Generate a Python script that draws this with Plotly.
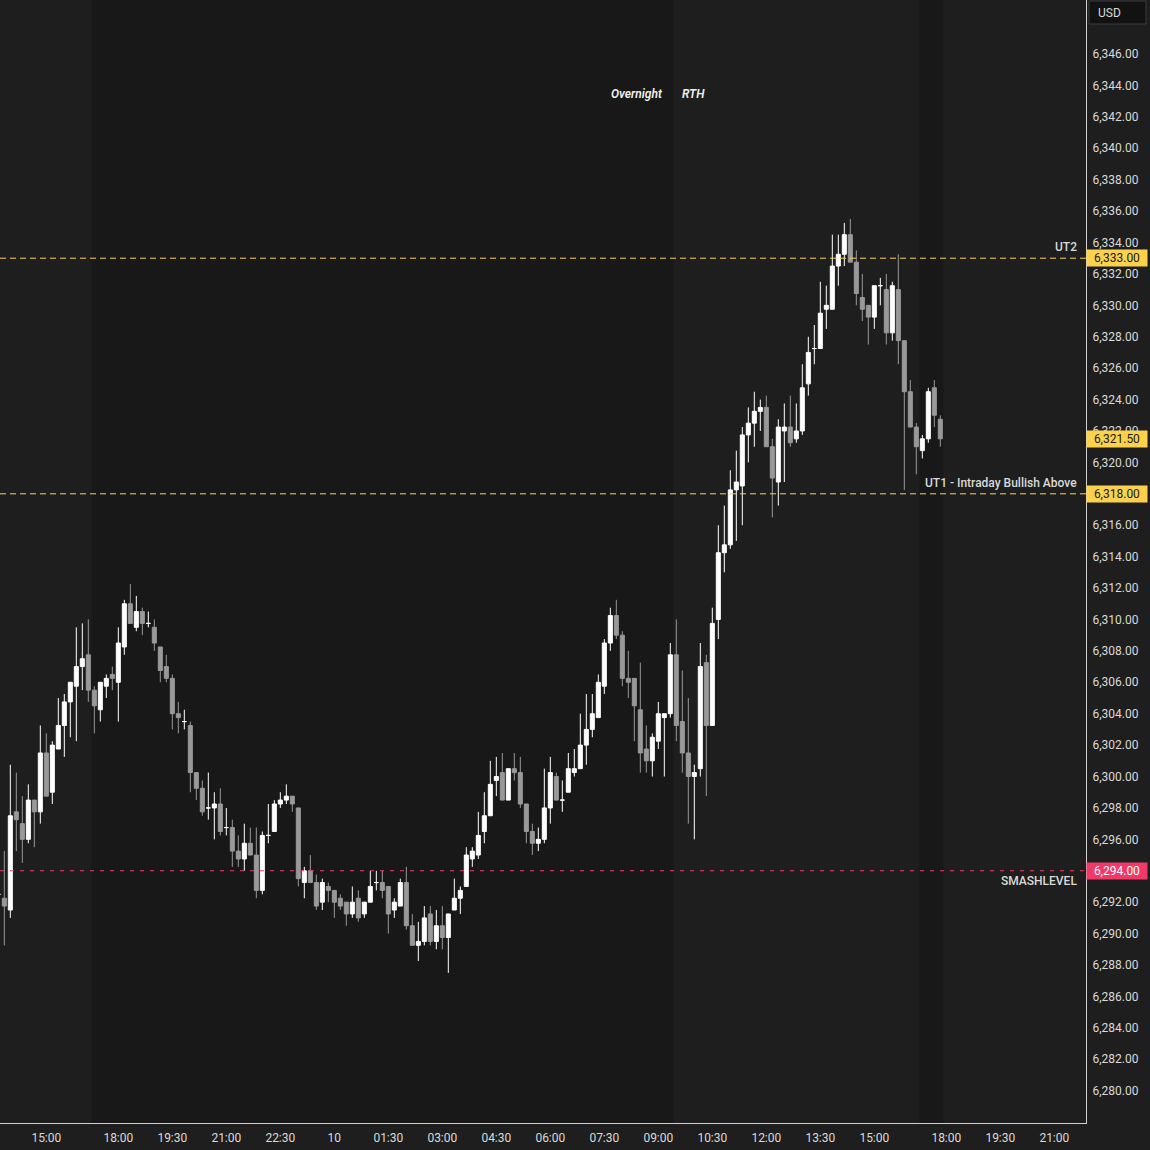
import plotly.graph_objects as go
import pandas as pd

# ---------------- data (10-minute bars, ES futures) ----------------
opens = [
    6292.5, 6292.25, 6291.5, 6297.75, 6297.0, 6296.0, 6298.5, 6297.75, 6301.5, 6299.0,
    6301.75, 6303.25, 6304.75, 6305.75, 6307.0, 6307.75, 6305.5, 6304.25, 6305.75, 6306.5,
    6306.0, 6308.25, 6311.0, 6309.5, 6310.5, 6309.75, 6309.5, 6308.25, 6307.0, 6306.25,
    6304.0, 6303.5, 6303.25, 6300.25, 6299.25, 6298.0, 6298.0, 6298.25, 6296.75, 6296.75,
    6295.25, 6294.75, 6295.75, 6295.0, 6292.75, 6296.25, 6296.5, 6298.25, 6298.5, 6298.75,
    6298.0, 6293.25, 6294.0, 6293.25, 6292.0, 6293.0, 6292.75, 6292.25, 6292.0, 6291.25,
    6292.25, 6291.25, 6292.0, 6293.25, 6293.25, 6293.0, 6291.5, 6291.75, 6293.25, 6290.5,
    6289.25, 6289.5, 6291.25, 6289.5, 6290.5, 6289.75, 6291.5, 6292.25, 6293.0, 6294.75,
    6295.0, 6296.5, 6297.5, 6299.75, 6300.25, 6298.5, 6300.5, 6300.25, 6298.25, 6296.5,
    6295.75, 6296.0, 6298.0, 6300.0, 6298.5, 6299.0, 6300.25, 6300.5, 6302.0, 6303.0,
    6303.75, 6305.75, 6308.5, 6310.25, 6309.0, 6306.25, 6306.25, 6304.25, 6301.75, 6301.0,
    6302.25, 6303.75, 6304.0, 6307.75, 6303.5, 6301.5, 6300.0, 6300.5, 6307.25, 6303.25,
    6310.0, 6314.25, 6314.75, 6318.25, 6318.5, 6321.75, 6322.5, 6323.25, 6323.5, 6321.0,
    6318.75, 6322.0, 6322.25, 6321.5, 6322.0, 6325.0, 6327.25, 6327.25, 6329.75, 6329.75,
    6332.5, 6333.25, 6334.5, 6332.75, 6330.5, 6330.0, 6329.25, 6331.25, 6331.0, 6328.25,
    6331.0, 6327.75, 6324.5, 6322.25, 6320.75, 6321.5, 6324.75, 6322.75,
]
highs = [
    6293.0, 6295.25, 6300.75, 6300.25, 6298.75, 6299.5, 6298.5, 6303.25, 6302.75, 6302.25,
    6305.0, 6305.25, 6306.0, 6309.5, 6309.75, 6310.0, 6305.75, 6306.0, 6306.5, 6307.0,
    6309.5, 6311.25, 6312.25, 6311.5, 6310.75, 6310.5, 6310.0, 6308.25, 6307.75, 6306.5,
    6304.75, 6304.25, 6303.5, 6300.25, 6299.75, 6300.25, 6299.0, 6299.25, 6298.0, 6297.25,
    6296.25, 6297.0, 6296.75, 6296.75, 6296.5, 6298.25, 6298.5, 6299.0, 6299.5, 6298.75,
    6298.0, 6294.25, 6295.0, 6293.75, 6293.5, 6293.25, 6292.75, 6292.5, 6292.0, 6293.0,
    6292.75, 6292.0, 6294.0, 6294.0, 6294.0, 6293.0, 6292.25, 6293.5, 6294.25, 6291.25,
    6290.75, 6291.75, 6291.75, 6291.5, 6291.75, 6291.25, 6293.5, 6293.0, 6295.5, 6295.5,
    6297.75, 6299.0, 6301.0, 6301.25, 6301.5, 6300.5, 6301.5, 6301.25, 6298.25, 6297.0,
    6296.75, 6300.5, 6301.25, 6300.25, 6299.75, 6301.5, 6301.75, 6304.0, 6305.25, 6305.25,
    6306.5, 6308.75, 6310.75, 6311.25, 6309.25, 6308.0, 6306.25, 6307.25, 6303.25, 6302.75,
    6304.75, 6304.0, 6308.5, 6310.0, 6306.75, 6305.0, 6300.75, 6308.5, 6307.75, 6310.75,
    6316.0, 6317.25, 6319.5, 6320.75, 6322.25, 6323.5, 6324.5, 6324.0, 6324.25, 6321.5,
    6322.75, 6323.75, 6324.25, 6323.75, 6326.25, 6328.0, 6328.75, 6331.5, 6331.25, 6334.5,
    6334.5, 6335.25, 6335.5, 6333.5, 6332.0, 6330.0, 6331.25, 6331.75, 6332.0, 6331.5,
    6333.25, 6327.75, 6325.25, 6322.5, 6321.75, 6324.75, 6325.25, 6323.0,
]
lows = [
    6292.0, 6289.25, 6291.0, 6295.25, 6294.5, 6295.75, 6295.5, 6297.0, 6298.75, 6298.25,
    6301.75, 6301.25, 6302.5, 6302.25, 6305.5, 6304.75, 6302.75, 6303.5, 6305.0, 6305.5,
    6303.5, 6307.75, 6309.75, 6309.25, 6309.0, 6309.5, 6308.0, 6306.0, 6306.0, 6303.0,
    6302.75, 6303.0, 6299.0, 6298.5, 6297.5, 6297.25, 6296.0, 6296.25, 6296.25, 6294.25,
    6294.25, 6294.0, 6295.0, 6292.25, 6292.5, 6295.75, 6296.5, 6298.0, 6298.25, 6297.75,
    6293.0, 6292.25, 6293.25, 6291.5, 6291.5, 6292.0, 6291.0, 6291.5, 6290.5, 6291.0,
    6290.75, 6291.0, 6292.0, 6292.75, 6292.25, 6290.0, 6291.0, 6291.75, 6290.25, 6289.25,
    6288.25, 6289.25, 6289.25, 6289.0, 6289.0, 6287.5, 6291.5, 6291.25, 6293.0, 6294.25,
    6294.75, 6295.75, 6297.5, 6298.75, 6298.5, 6298.5, 6299.75, 6298.0, 6295.75, 6295.0,
    6295.25, 6295.75, 6297.0, 6298.5, 6297.75, 6299.0, 6300.0, 6300.5, 6300.75, 6302.5,
    6303.75, 6305.25, 6308.0, 6308.75, 6305.75, 6305.0, 6302.25, 6300.25, 6300.25, 6300.0,
    6301.75, 6300.0, 6303.75, 6302.25, 6300.25, 6297.0, 6296.0, 6300.0, 6298.75, 6303.25,
    6308.75, 6313.0, 6314.5, 6315.0, 6316.0, 6320.0, 6321.0, 6322.0, 6321.0, 6316.5,
    6317.25, 6318.75, 6321.0, 6321.25, 6321.75, 6324.25, 6326.25, 6327.25, 6328.5, 6329.75,
    6331.25, 6332.5, 6332.75, 6330.0, 6329.0, 6327.5, 6328.5, 6330.0, 6327.5, 6327.75,
    6326.25, 6318.25, 6322.25, 6319.25, 6320.25, 6321.25, 6322.25, 6321.0,
]
closes = [
    6292.5, 6291.75, 6297.5, 6297.25, 6296.0, 6298.5, 6297.75, 6301.5, 6298.75, 6302.0,
    6303.25, 6304.75, 6306.0, 6307.0, 6307.5, 6305.5, 6304.5, 6306.0, 6306.25, 6306.25,
    6308.5, 6311.0, 6309.75, 6310.5, 6309.75, 6309.75, 6308.5, 6306.75, 6306.25, 6304.0,
    6303.75, 6303.5, 6300.25, 6299.25, 6297.75, 6298.0, 6298.25, 6296.5, 6296.75, 6295.25,
    6294.75, 6295.75, 6295.0, 6292.75, 6296.25, 6296.25, 6298.25, 6298.5, 6298.75, 6298.25,
    6293.5, 6294.0, 6293.25, 6291.75, 6293.25, 6292.75, 6292.0, 6291.75, 6291.25, 6292.0,
    6291.0, 6292.0, 6293.0, 6293.25, 6292.75, 6291.25, 6292.0, 6293.25, 6290.5, 6289.25,
    6289.5, 6291.0, 6289.5, 6290.5, 6289.75, 6291.25, 6292.25, 6292.75, 6295.0, 6295.25,
    6296.25, 6297.5, 6299.5, 6300.0, 6298.5, 6300.5, 6300.25, 6298.25, 6296.5, 6295.75,
    6296.0, 6298.0, 6300.25, 6298.5, 6298.5, 6300.5, 6300.5, 6302.0, 6303.0, 6304.0,
    6306.0, 6308.5, 6310.25, 6309.0, 6306.25, 6306.0, 6304.5, 6301.5, 6301.0, 6302.5,
    6304.0, 6304.0, 6307.75, 6303.25, 6301.5, 6300.0, 6300.25, 6307.0, 6303.25, 6309.75,
    6314.25, 6314.75, 6318.25, 6318.75, 6321.75, 6322.5, 6323.25, 6323.5, 6321.0, 6319.0,
    6322.25, 6322.25, 6321.25, 6322.0, 6324.75, 6327.0, 6327.25, 6329.5, 6330.0, 6332.5,
    6333.25, 6334.5, 6332.75, 6330.75, 6329.75, 6329.25, 6331.25, 6331.25, 6328.25, 6331.25,
    6327.75, 6324.5, 6322.25, 6321.0, 6321.5, 6324.5, 6323.0, 6321.5,
]

# bar times: 9 Jul 13:40 -> 16:50, then 18:00 -> 10 Jul 16:50 (17:00-18:00 maintenance break)
times = (list(pd.date_range("2025-07-09 13:40", "2025-07-09 16:50", freq="10min")) +
         list(pd.date_range("2025-07-09 18:00", "2025-07-10 16:50", freq="10min")))

tick_times = ["2025-07-09 15:00", "2025-07-09 18:00", "2025-07-09 19:30", "2025-07-09 21:00",
              "2025-07-09 22:30", "2025-07-10 00:00", "2025-07-10 01:30", "2025-07-10 03:00",
              "2025-07-10 04:30", "2025-07-10 06:00", "2025-07-10 07:30", "2025-07-10 09:00",
              "2025-07-10 10:30", "2025-07-10 12:00", "2025-07-10 13:30", "2025-07-10 15:00",
              "2025-07-10 18:00", "2025-07-10 19:30", "2025-07-10 21:00"]
tick_labels = ["15:00", "18:00", "19:30", "21:00", "22:30", "10", "01:30", "03:00", "04:30",
               "06:00", "07:30", "09:00", "10:30", "12:00", "13:30", "15:00", "18:00", "19:30", "21:00"]

price_ticks = list(range(6280, 6348, 2))

level_values = [6333.0, 6318.0, 6294.0]
level_names = ["UT2", "UT1 - Intraday Bullish Above", "SMASHLEVEL"]
level_label_side = ["above", "above", "below"]

# overnight session shading (start, end)
overnight_sessions = [("2025-07-09 16:15", "2025-07-10 09:25"),
                      ("2025-07-10 16:15", "2025-07-10 16:55")]

# ---------------- styling ----------------
BG = "#1e1e1e"
BG_ON = "#181818"
UP = "#ffffff"
DOWN = "#999999"
YELLOW = "#fcd24c"
PINK = "#f23867"
TXT = "#dadada"
FONT = "Roboto"
level_colors = [YELLOW, YELLOW, PINK]
level_dash = ["6px,4px", "6px,4px", "4px,6px"]
box_text_colors = ["#1a1a1a", "#1a1a1a", "#ffffff"]

# split dojis so they are always drawn white
idx_main = [i for i in range(len(opens)) if opens[i] != closes[i]]
idx_doji = [i for i in range(len(opens)) if opens[i] == closes[i]]


def pick(arr, idx):
    return [arr[i] for i in idx]


fig = go.Figure()
fig.add_trace(go.Candlestick(
    x=pick(times, idx_main), open=pick(opens, idx_main), high=pick(highs, idx_main),
    low=pick(lows, idx_main), close=pick(closes, idx_main),
    increasing=dict(line=dict(color=UP, width=1), fillcolor=UP),
    decreasing=dict(line=dict(color=DOWN, width=1), fillcolor=DOWN),
    whiskerwidth=0, showlegend=False, hoverinfo="skip"))
fig.add_trace(go.Candlestick(
    x=pick(times, idx_doji), open=pick(opens, idx_doji), high=pick(highs, idx_doji),
    low=pick(lows, idx_doji), close=pick(closes, idx_doji),
    increasing=dict(line=dict(color=UP, width=1), fillcolor=UP),
    decreasing=dict(line=dict(color=UP, width=1), fillcolor=UP),
    whiskerwidth=0, showlegend=False, hoverinfo="skip"))

shapes = []
for s, e in overnight_sessions:
    shapes.append(dict(type="rect", xref="x", yref="paper", x0=s, x1=e, y0=0, y1=1,
                       fillcolor=BG_ON, line=dict(width=0), layer="below"))
for v, c, d in zip(level_values, level_colors, level_dash):
    shapes.append(dict(type="line", xref="paper", yref="y", x0=0, x1=1, y0=v, y1=v,
                       line=dict(color=c, width=1, dash=d), layer="above"))
# USD box (top right, over the price scale)
shapes.append(dict(type="rect", xref="paper", yref="paper",
                   x0=1 + 3 / 1086, x1=1 + 60 / 1086, y0=1 - 24 / 1123, y1=1 - 1 / 1123,
                   fillcolor="#121212", line=dict(color="#3a3a3a", width=1), layer="above"))

annotations = []
for v, name, side in zip(level_values, level_names, level_label_side):
    annotations.append(dict(xref="paper", yref="y", x=1, y=v, xanchor="right",
                            yanchor="middle", xshift=-7, yshift=11 if side == "above" else -10,
                            text=name, showarrow=False,
                            font=dict(family=FONT, size=12, color=TXT, weight=500)))
box_values = [level_values[0], closes[-1], level_values[1], level_values[2]]
box_colors = [YELLOW, YELLOW, YELLOW, PINK]
box_txt = [box_text_colors[0], box_text_colors[0], box_text_colors[1], box_text_colors[2]]
for v, bc, tc in zip(box_values, box_colors, box_txt):
    annotations.append(dict(xref="paper", yref="y", x=1, y=v, xanchor="left", yanchor="middle",
                            text=f"{v:,.2f}", showarrow=False, bgcolor=bc, width=58, height=14,
                            borderpad=1, align="center",
                            font=dict(family=FONT, size=12, color=tc)))
annotations.append(dict(xref="paper", yref="paper", x=1, y=1 - 12.5 / 1123, xanchor="left",
                        yanchor="middle", xshift=10, text="USD", showarrow=False,
                        font=dict(family=FONT, size=12, color=TXT)))
# session labels
annotations.append(dict(xref="x", yref="paper", x=overnight_sessions[0][1], y=1 - 94 / 1123,
                        xanchor="right", yanchor="middle", xshift=-8, text="Overnight",
                        showarrow=False,
                        font=dict(family=FONT, size=12, color="#f0f0f0", style="italic", weight=600)))
annotations.append(dict(xref="x", yref="paper", x=overnight_sessions[0][1], y=1 - 94 / 1123,
                        xanchor="left", yanchor="middle", xshift=7, text="RTH", showarrow=False,
                        font=dict(family=FONT, size=12, color="#f0f0f0", style="italic", weight=600)))

fig.update_layout(
    width=1150, height=1150,
    margin=dict(l=0, r=64, t=0, b=27),
    paper_bgcolor=BG, plot_bgcolor=BG,
    boxgap=0.33, boxgroupgap=0,
    shapes=shapes, annotations=annotations,
    font=dict(family=FONT, size=12, color=TXT),
    showlegend=False,
    hovermode=False,
)
fig.update_xaxes(
    type="date",
    range=["2025-07-09 13:42:48", "2025-07-10 21:52:48"],
    rangebreaks=[dict(bounds=[17, 18], pattern="hour")],
    rangeslider=dict(visible=False),
    tickmode="array", tickvals=tick_times, ticktext=tick_labels,
    showgrid=False, zeroline=False,
    showline=True, linecolor="#d0d0d0", linewidth=1,
    ticks="", ticklabelstandoff=4,
    tickfont=dict(family=FONT, size=12, color=TXT),
    fixedrange=True,
)
fig.update_yaxes(
    side="right",
    range=[6277.94, 6349.44],
    tickmode="array", tickvals=price_ticks, tickformat=",.2f",
    showgrid=False, zeroline=False,
    showline=True, linecolor="#d0d0d0", linewidth=1,
    ticks="", ticklabelstandoff=3,
    tickfont=dict(family=FONT, size=12, color=TXT),
    fixedrange=True,
)

fig.write_html(
    "out.html",
    config={"displayModeBar": False, "staticPlot": True},
    post_script="document.body.style.margin='0';document.body.style.background='#1e1e1e';",
)
